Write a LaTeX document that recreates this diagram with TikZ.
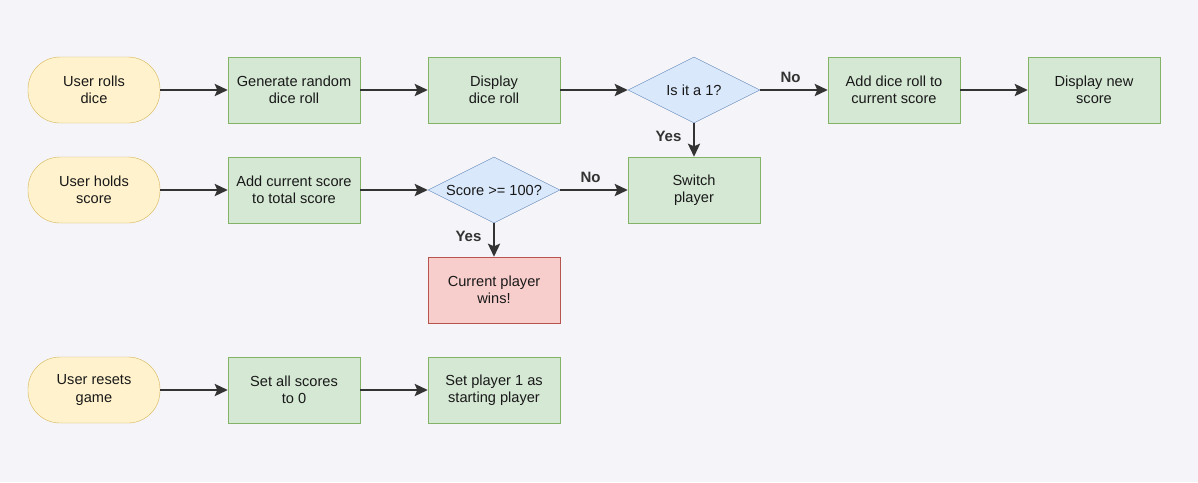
\documentclass[tikz,border=0pt]{standalone}
\usepackage{fontspec}
\setmainfont{Liberation Sans}
\definecolor{fcback}{HTML}{F5F4F8}
\definecolor{fcyellow}{HTML}{FFF2CC}
\definecolor{fcyellowline}{HTML}{D6B656}
\definecolor{fcgreen}{HTML}{D5E8D4}
\definecolor{fcgreenline}{HTML}{82B366}
\definecolor{fcblue}{HTML}{DAE8FC}
\definecolor{fcblueline}{HTML}{6C8EBF}
\definecolor{fcred}{HTML}{F8CECC}
\definecolor{fcredline}{HTML}{B85450}
\definecolor{fcarrow}{HTML}{333333}
\usetikzlibrary{arrows.meta,positioning,shapes.geometric}

\begin{document}
\begin{tikzpicture}[x=1pt, y=-1pt,
    every node/.style={font=\fontsize{14.6}{17.5}\selectfont, text=black!90},
    startbox/.style={rectangle, rounded corners=32pt, minimum width=132pt, minimum height=66pt,
      inner sep=0pt, draw=fcyellowline, fill=fcyellow, align=center},
    stepbox/.style={rectangle, minimum width=132pt, minimum height=66pt,
      inner sep=0pt, draw=fcgreenline, fill=fcgreen, align=center},
    endbox/.style={stepbox, draw=fcredline, fill=fcred},
    choice/.style={diamond, shape aspect=2, minimum width=132pt, minimum height=66pt, inner sep=0pt,
      draw=fcblueline, fill=fcblue, align=center},
    answer/.style={font=\fontsize{15}{17.5}\selectfont\bfseries, text=fcarrow},
    arr/.style={-{Stealth[length=13pt, width=12pt, inset=2.5pt]}, line width=2.6pt, fcarrow}
  ]
    \fill[fcback] (0,0) rectangle (1198,482);
    \useasboundingbox (0,0) rectangle (1198,482);

    % Rolling
    \node[startbox] (roll)    at (94,90)   {User rolls\\dice};
    \node[stepbox]  (gen)     at (294,90)  {Generate random\\dice roll};
    \node[stepbox]  (show)    at (494,90)  {Display\\dice roll};
    \node[choice]   (isone)   at (694,90)  {Is it a 1?};
    \node[stepbox]  (addroll) at (894,90)  {Add dice roll to\\current score};
    \node[stepbox]  (newscore) at (1094,90) {Display new\\score};

    % Holding
    \node[startbox] (hold)    at (94,190)  {User holds\\score};
    \node[stepbox]  (addtot)  at (294,190) {Add current score\\to total score};
    \node[choice]   (hundred) at (494,190) {Score >= 100?};
    \node[stepbox]  (switch)  at (694,190) {Switch\\player};
    \node[endbox]   (wins)    at (494,290) {Current player\\wins!};

    % Resetting
    \node[startbox] (reset)   at (94,390)  {User resets\\game};
    \node[stepbox]  (zero)    at (294,390) {Set all scores\\to 0};
    \node[stepbox]  (first)   at (494,390) {Set player 1 as\\starting player};

    \draw[arr] (roll.east) -- (gen.west);
    \draw[arr] (gen.east) -- (show.west);
    \draw[arr] (show.east) -- (isone.west);
    \draw[arr] (isone.east) -- node[answer, above=3pt, pos=0.45] {No} (addroll.west);
    \draw[arr] (addroll.east) -- (newscore.west);
    \draw[arr] (isone.south) -- node[answer, left=8pt, pos=0.4] {Yes} (switch.north);

    \draw[arr] (hold.east) -- (addtot.west);
    \draw[arr] (addtot.east) -- (hundred.west);
    \draw[arr] (hundred.east) -- node[answer, above=3pt, pos=0.45] {No} (switch.west);
    \draw[arr] (hundred.south) -- node[answer, left=8pt, pos=0.4] {Yes} (wins.north);

    \draw[arr] (reset.east) -- (zero.west);
    \draw[arr] (zero.east) -- (first.west);
  \end{tikzpicture}
\end{document}
